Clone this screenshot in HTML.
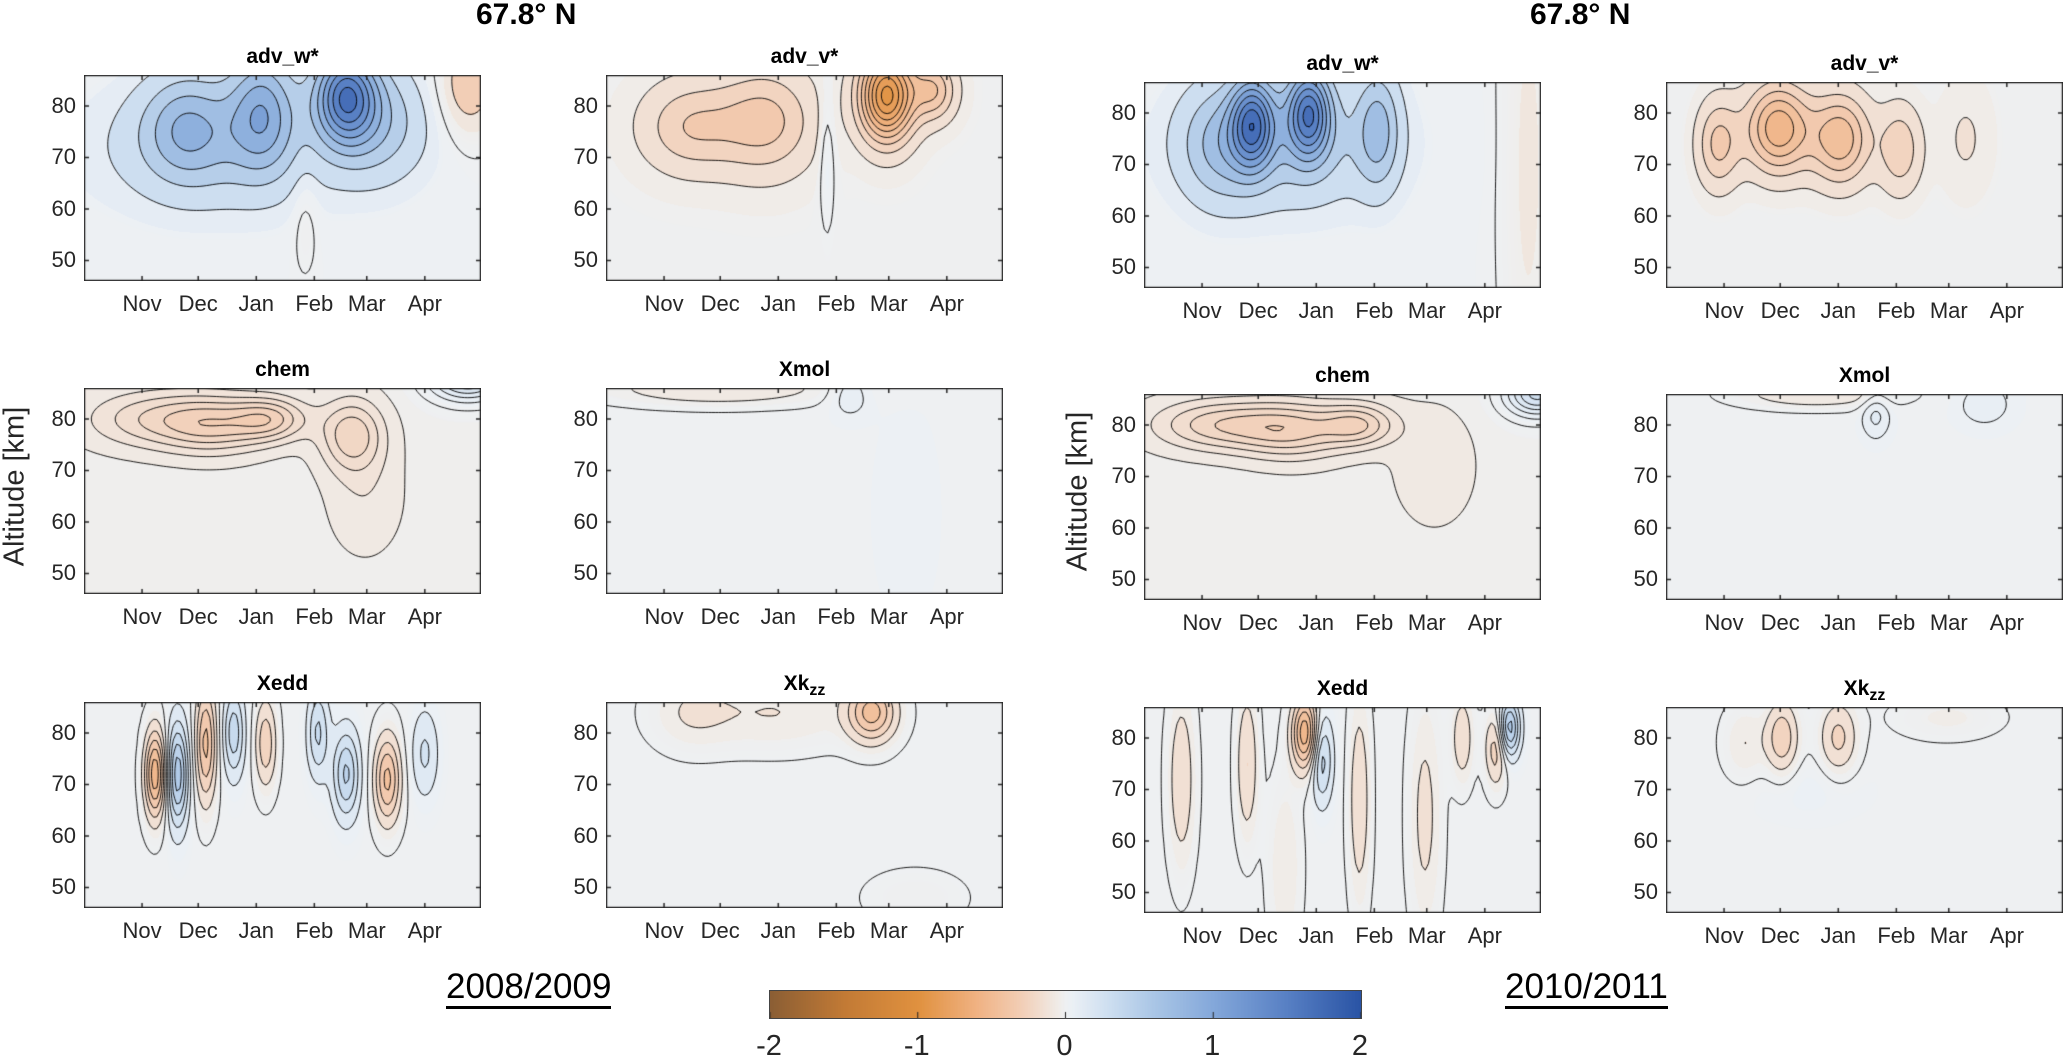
<!DOCTYPE html>
<html><head><meta charset="utf-8">
<style>
html,body{margin:0;padding:0;background:#fff;}
#root{position:relative;width:2066px;height:1064px;overflow:hidden;background:#fff;font-family:"Liberation Sans",sans-serif;color:#262626;}
.abs{position:absolute;}
.ttl{position:absolute;font-weight:bold;font-size:21px;color:#000;text-align:center;width:300px;}
.tick{position:absolute;font-size:21px;color:#262626;}
.big{position:absolute;font-weight:bold;font-size:30px;color:#000;}
canvas{position:absolute;}
.yr{position:absolute;font-size:35px;color:#000;border-bottom:3px solid #000;line-height:38px;}
</style></head>
<body><div id="root">
<div class="big" style="left:476px;top:-2px;">67.8° N</div>
<div class="big" style="left:1530px;top:-2px;">67.8° N</div>
<div class="abs" style="left:-85px;top:470px;width:200px;transform:rotate(-90deg);font-size:29px;text-align:center;white-space:nowrap">Altitude [km]</div>
<div class="abs" style="left:978px;top:475px;width:200px;transform:rotate(-90deg);font-size:29px;text-align:center;white-space:nowrap">Altitude [km]</div>
<div class="yr" style="left:446px;top:968px;">2008/2009</div>
<div class="yr" style="left:1505px;top:968px;">2010/2011</div>
<canvas id="cbar" width="591" height="27" style="left:769px;top:990px;border:1px solid #444;box-sizing:content-box"></canvas>
</div>
<script>
// ---- data ----
const months = ["Nov","Dec","Jan","Feb","Mar","Apr"];
const monthDays = [31,61,92,123,151,182];
const altTicks = [50,60,70,80];
const cbarTicks = [-2,-1,0,1,2];
const tMax = 212, zMin = 46, zMax = 86;
// blobs: [day, altitude, amplitude, sigmaDays, sigmaKm]
const blobsAdvW08 = [[55,76,0.55,16,7],[95,79,0.75,12,8],[70,72,0.35,45,9],[140,82,1.3,11,6],[155,77,0.5,20,8],[118,60,-0.12,5,8],[205,84,-0.35,12,7]];
const blobsAdvV08 = [[45,76,-0.25,18,6],[85,77,-0.3,18,7],[150,82,-0.9,10,6],[175,83,-0.35,8,4],[118,70,0.12,3,10]];
const blobsChem08 = [[35,80,-0.15,25,4],[70,79,-0.2,20,4],[100,80,-0.2,14,3],[143,77,-0.2,12,5],[150,65,-0.06,14,8],[205,88,0.3,14,3]];
const blobsXmol08 = [[60,86,-0.12,45,2.5],[130,85,0.08,8,3],[160,62,0.03,10,12]];
const blobsXedd08 = [[38,72,-0.6,4,6],[50,72,0.55,4,7],[65,78,-0.45,4,8],[80,80,0.35,4,6],[97,78,-0.3,4,6],[125,80,0.3,4,6],[140,72,0.4,5,6],[162,71,-0.45,5,6],[182,76,0.2,5,6]];
const blobsXkzz08 = [[142,84,-0.45,9,4],[90,84,-0.12,30,5],[45,84,-0.1,15,5],[165,48,-0.06,20,4]];
const blobsAdvW10 = [[58,78,1.25,8,6],[88,80,1.3,8,6],[75,74,0.45,38,9],[125,77,0.55,8,8],[40,74,0.4,14,8],[205,70,-0.15,10,40]];
const blobsAdvV10 = [[28,74,-0.3,8,6],[60,77,-0.55,12,6],[93,75,-0.45,11,6],[125,73,-0.25,8,6],[160,75,-0.08,10,8]];
const blobsChem10 = [[40,80,-0.2,25,3.5],[80,79,-0.2,20,4],[115,80,-0.2,14,3],[155,72,-0.06,15,8],[210,86,0.3,12,3]];
const blobsXmol10 = [[80,86,-0.12,30,2],[112,82,0.1,5,3],[170,84,0.06,10,3]];
const blobsXedd10 = [[20,72,-0.2,5,12],[55,75,-0.22,4,10],[86,81,-0.6,5,5],[95,76,0.35,4,6],[115,68,-0.2,4,14],[195,82,0.55,4,4],[188,78,-0.3,4,5],[150,65,-0.15,6,16],[75,55,-0.12,6,12],[170,80,-0.2,4,6]];
const blobsXkzz10 = [[62,80,-0.3,6,5],[92,80,-0.25,7,5],[42,79,-0.12,8,5],[75,70,0.05,20,4],[150,84,-0.08,20,3]];

const panels = [
 {id:"adv-w-2008",title:"adv_w*",x:84,y:75,blobs:blobsAdvW08,bg:0.03,step:0.2},
 {id:"adv-v-2008",title:"adv_v*",x:606,y:75,blobs:blobsAdvV08,bg:-0.04,step:0.1},
 {id:"chem-2008",title:"chem",x:84,y:388,blobs:blobsChem08,bg:-0.03,step:0.05},
 {id:"xmol-2008",title:"Xmol",x:606,y:388,blobs:blobsXmol08,bg:0.02,step:0.05},
 {id:"xedd-2008",title:"Xedd",x:84,y:702,blobs:blobsXedd08,bg:0.02,step:0.1},
 {id:"xkzz-2008",title:"Xk<sub style='font-size:16px'>zz</sub>",x:606,y:702,blobs:blobsXkzz08,bg:0.02,step:0.1},
 {id:"adv-w-2010",title:"adv_w*",x:1144,y:82,blobs:blobsAdvW10,bg:0.03,step:0.2},
 {id:"adv-v-2010",title:"adv_v*",x:1666,y:82,blobs:blobsAdvV10,bg:-0.03,step:0.1},
 {id:"chem-2010",title:"chem",x:1144,y:394,blobs:blobsChem10,bg:-0.03,step:0.05},
 {id:"xmol-2010",title:"Xmol",x:1666,y:394,blobs:blobsXmol10,bg:0.02,step:0.05},
 {id:"xedd-2010",title:"Xedd",x:1144,y:707,blobs:blobsXedd10,bg:0.02,step:0.1},
 {id:"xkzz-2010",title:"Xk<sub style='font-size:16px'>zz</sub>",x:1666,y:707,blobs:blobsXkzz10,bg:0.02,step:0.1}
];
const W = 397, H = 206;
const stops = [[-2,[139,94,52]],[-1.5,[194,122,53]],[-1,[224,145,63]],[-0.6,[240,178,131]],[-0.3,[242,206,182]],[-0.05,[240,236,232]],[0,[238,240,242]],[0.05,[235,240,245]],[0.3,[205,222,240]],[0.6,[170,198,230]],[1,[132,168,218]],[1.5,[88,128,196]],[2,[42,84,165]]];
function cmap(v){
  if(v<=stops[0][0]) return stops[0][1];
  for(let i=1;i<stops.length;i++){ if(v<=stops[i][0]){ const a=stops[i-1],b=stops[i]; const f=(v-a[0])/(b[0]-a[0]); return a[1].map((c,k)=>c+(b[1][k]-c)*f);} }
  return stops[stops.length-1][1];
}
function field(p,t,z){ let v=p.bg; for(const b of p.blobs){ const dt=(t-b[0])/b[3], dz=(z-b[1])/b[4]; v+=b[2]*Math.exp(-0.5*(dt*dt+dz*dz)); } return v; }
const root=document.getElementById('root');
panels.forEach(p=>{
  const xS=t=>t/tMax*W, yS=z=>(zMax-z)/(zMax-zMin)*H;
  const cv=document.createElement('canvas'); cv.width=W; cv.height=H;
  cv.style.left=p.x+'px'; cv.style.top=p.y+'px';
  
  
  root.appendChild(cv);
  const ctx=cv.getContext('2d'); const img=ctx.createImageData(W,H);
  for(let py=0;py<H;py++) for(let px=0;px<W;px++){
    const v=field(p,px/W*tMax, zMax-py/H*(zMax-zMin));
    const q=(Math.floor(v/p.step)+0.5)*p.step;
    const c=cmap(Math.abs(v)<p.step*0.5&&Math.abs(q)<p.step?v*0.3:q);
    const i=(py*W+px)*4; img.data[i]=c[0];img.data[i+1]=c[1];img.data[i+2]=c[2];img.data[i+3]=255;
  }
  ctx.putImageData(img,0,0);
  const nx=120, ny=62; const g=[];
  for(let j=0;j<=ny;j++){g.push([]);for(let i=0;i<=nx;i++) g[j].push(field(p,i/nx*tMax, zMax-j/ny*(zMax-zMin)));}
  ctx.strokeStyle='#000'; ctx.lineWidth=0.9; ctx.beginPath();
  for(let L=-2;L<=2.0001;L+=p.step){
    const lev=Math.round(L/p.step)*p.step;
    for(let j=0;j<ny;j++)for(let i=0;i<nx;i++){
      const a=g[j][i],b=g[j][i+1],c=g[j+1][i+1],d=g[j+1][i];
      const pts=[]; const cx=W/nx, cy=H/ny;
      if((a-lev)*(b-lev)<0) pts.push([(i+(lev-a)/(b-a))*cx, j*cy]);
      if((b-lev)*(c-lev)<0) pts.push([(i+1)*cx,(j+(lev-b)/(c-b))*cy]);
      if((d-lev)*(c-lev)<0) pts.push([(i+(lev-d)/(c-d))*cx,(j+1)*cy]);
      if((a-lev)*(d-lev)<0) pts.push([i*cx,(j+(lev-a)/(d-a))*cy]);
      for(let k=0;k+1<pts.length;k+=2){ctx.moveTo(pts[k][0],pts[k][1]);ctx.lineTo(pts[k+1][0],pts[k+1][1]);}
    }
  }
  ctx.stroke();
  ctx.strokeStyle='#262626'; ctx.lineWidth=1.5; ctx.strokeRect(0.5,0.5,W-1,H-1);
  ctx.beginPath();
  monthDays.forEach(d=>{const x=xS(d); ctx.moveTo(x,H);ctx.lineTo(x,H-5);ctx.moveTo(x,0);ctx.lineTo(x,5);});
  altTicks.forEach(a=>{const y=yS(a); ctx.moveTo(0,y);ctx.lineTo(5,y);ctx.moveTo(W,y);ctx.lineTo(W-5,y);});
  ctx.stroke();
  const t=document.createElement('div'); t.className='ttl'; t.innerHTML=p.title;
  t.style.left=(p.x+W/2-150)+'px'; t.style.top=(p.y-30)+'px';
  
  
  root.appendChild(t);
  months.forEach((m,k)=>{const e=document.createElement('div'); e.className='tick'; e.textContent=m;
    e.style.left=(p.x+xS(monthDays[k])-30)+'px'; e.style.width='60px'; e.style.textAlign='center'; e.style.top=(p.y+H+10)+'px'; e.style.fontSize='22px';
    
    
    root.appendChild(e);});
  altTicks.forEach(a=>{const e=document.createElement('div'); e.className='tick'; e.textContent=a;
    e.style.left=(p.x-58)+'px'; e.style.width='50px'; e.style.textAlign='right'; e.style.top=(p.y+yS(a)-13)+'px'; e.style.fontSize='22px';
    
    
    root.appendChild(e);});
});
const CBW=591;
const cb=document.getElementById('cbar'); const cc=cb.getContext('2d');
for(let x=0;x<CBW;x++){const c=cmap(-2+4*x/(CBW-1)); cc.fillStyle='rgb('+c.map(Math.round).join(',')+')'; cc.fillRect(x,0,1,27);}
cc.strokeStyle='#222'; cc.beginPath();
cbarTicks.forEach(v=>{const x=(v+2)/4*CBW; cc.moveTo(x,27); cc.lineTo(x,21);}); cc.stroke();
cbarTicks.forEach(v=>{const e=document.createElement('div'); e.className='tick'; e.style.fontSize='29px'; e.textContent=v;
  e.style.left=(769+(v+2)/4*CBW-30)+'px'; e.style.width='60px'; e.style.textAlign='center'; e.style.top='1030px';
  
  
  root.appendChild(e);});
</script>
</body></html>
